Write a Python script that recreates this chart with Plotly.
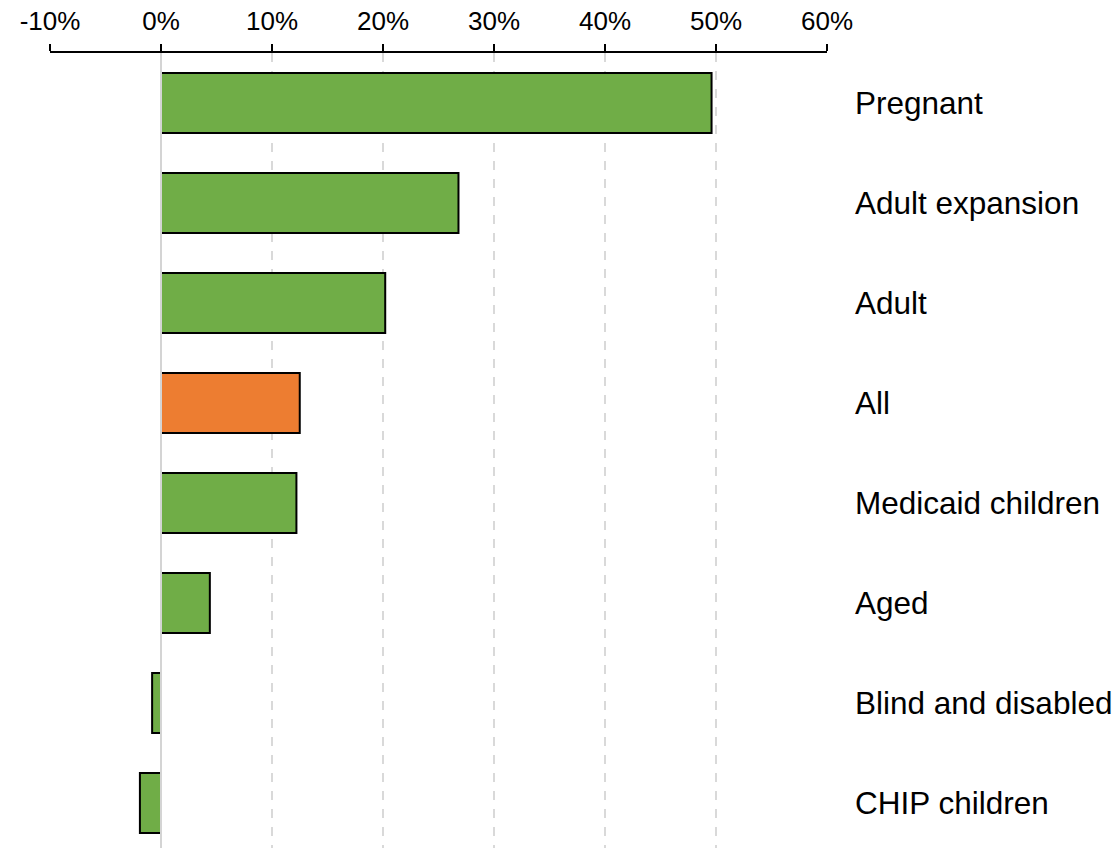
import plotly.graph_objects as go

categories = ["Pregnant", "Adult expansion", "Adult", "All", "Medicaid children",
              "Aged", "Blind and disabled", "CHIP children"]
values = [49.6, 26.8, 20.2, 12.5, 12.2, 4.4, -0.8, -1.9]
highlight = "All"
x_ticks = [-10, 0, 10, 20, 30, 40, 50, 60]
x_tick_labels = [f"{t}%" for t in x_ticks]

green = "#70AD47"
orange = "#ED7D31"
colors = [orange if c == highlight else green for c in categories]

fig = go.Figure(go.Bar(
    x=values, y=categories, orientation="h",
    marker=dict(color=colors, line=dict(color="black", width=2)),
    width=0.6,
))

fig.update_layout(
    width=1117, height=848,
    margin=dict(l=50, r=290, t=53, b=0),
    plot_bgcolor="white", paper_bgcolor="white",
    showlegend=False,
    font=dict(family="Liberation Sans, Arial, sans-serif", color="black"),
    shapes=[dict(type="line", xref="x", yref="paper", x0=0, x1=0, y0=0, y1=1,
                 line=dict(color="#d4d4d4", width=2), layer="above")],
)
fig.update_xaxes(
    side="top", range=[-10, 60], tickvals=x_ticks, ticktext=x_tick_labels,
    showline=True, linecolor="black", linewidth=2,
    ticks="outside", ticklen=7, tickwidth=2, tickcolor="black",
    showgrid=True, gridcolor="#d9d9d9", gridwidth=1.5, griddash="dash",
    zeroline=False, tickfont=dict(size=26), ticklabelstandoff=4,
)
fig.update_yaxes(
    side="right", categoryorder="array", categoryarray=categories,
    range=[len(categories) - 0.55, -0.5],
    showline=False, showgrid=False, zeroline=False, ticks="",
    ticklabelstandoff=27, tickfont=dict(size=31.5),
)

fig.write_html(
    "out.html",
    config={"displayModeBar": False},
    post_script="document.body.style.margin='0';document.body.style.overflow='hidden';",
)
